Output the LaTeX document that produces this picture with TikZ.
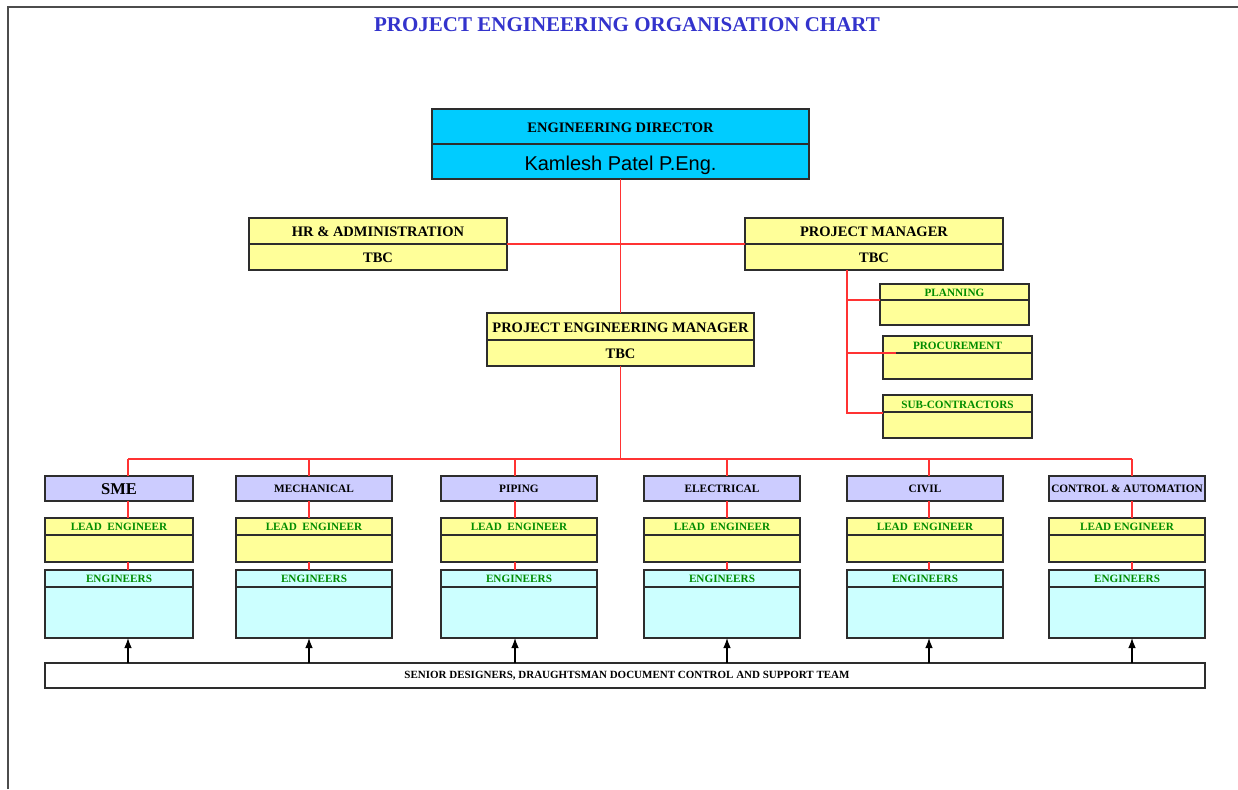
\documentclass[tikz,border=0pt]{standalone}
\usepackage{fontspec}
\setmainfont{Liberation Serif}
\newfontfamily\arialfont{Liberation Sans}
\usetikzlibrary{arrows.meta}
\definecolor{titleblue}{RGB}{51,51,204}
\definecolor{dircyan}{RGB}{0,204,255}
\definecolor{paleyellow}{RGB}{255,255,153}
\definecolor{lavender}{RGB}{204,204,255}
\definecolor{palecyan}{RGB}{204,255,255}
\definecolor{linered}{RGB}{255,51,51}
\definecolor{labgreen}{RGB}{0,140,0}
\definecolor{boxline}{RGB}{45,45,45}
\newcommand\obox[6]{\node[box,fill=#6,minimum width={(#4-#2)*1pt},minimum height={(#5-#3)*1pt}] (#1) at ({(#2+#4)/2},{(#3+#5)/2}) {};}
\newcommand\odiv[2]{\draw[divline] (#1.west |- 0,#2) -- (#1.east |- 0,#2);}
\begin{document}
\begin{tikzpicture}[x=1pt,y=-1pt,
  box/.style={draw=boxline,line width=1.3pt,inner sep=0pt,outer sep=0pt},
  divline/.style={draw=boxline,line width=1.3pt},
  redline/.style={draw=linered,line width=1.3pt},
  uparrow/.style={draw=black,line width=1.1pt,-{Latex[length=10pt,width=7.5pt]}},
  headlab/.style={inner sep=0pt,font=\bfseries\fontsize{14.5}{16}\selectfont},
  greenlab/.style={inner sep=0pt,text=labgreen,font=\bfseries\fontsize{11.2}{12}\selectfont},
  deptlab/.style={inner sep=0pt,font=\bfseries\fontsize{11.3}{12}\selectfont},
  frameline/.style={draw=black!70,line width=1.2pt}]
\useasboundingbox (0,0) rectangle (1238,789);
\draw[frameline] (8,789) -- (8,7) -- (1238,7);
\node[inner sep=0pt,text=titleblue,font=\bfseries\fontsize{21}{23}\selectfont] (title) at (627,25) {PROJECT ENGINEERING ORGANISATION CHART};

% director
\obox{dir}{432}{109}{809}{179}{dircyan}
\odiv{dir}{144}
\node[headlab] (dirT) at (620.5,127.5) {ENGINEERING DIRECTOR};
\node[inner sep=0pt,font=\arialfont\fontsize{20}{22}\selectfont,anchor=base] (dirN) at (620.5,170) {Kamlesh Patel P.Eng.};

% HR and PM
\obox{hr}{249}{218}{507}{270}{paleyellow}
\odiv{hr}{244}
\node[headlab] (hrT) at (378,231.5) {HR \& ADMINISTRATION};
\node[headlab] (hrN) at (378,257.5) {TBC};
\obox{pm}{745}{218}{1003}{270}{paleyellow}
\odiv{pm}{244}
\node[headlab] (pmT) at (874,231.5) {PROJECT MANAGER};
\node[headlab] (pmN) at (874,257.5) {TBC};

% PEM
\obox{pem}{487}{313}{754}{366}{paleyellow}
\odiv{pem}{340}
\node[headlab] (pemT) at (620.5,327.5) {PROJECT ENGINEERING MANAGER};
\node[headlab] (pemN) at (620.5,353.5) {TBC};

% PM sub-boxes
\obox{plan}{880}{284}{1029}{325}{paleyellow}
\odiv{plan}{300}
\node[greenlab] (planT) at (954.5,292.5) {PLANNING};
\obox{proc}{883}{336}{1032}{379}{paleyellow}
\odiv{proc}{353}
\node[greenlab] (procT) at (957.5,345.5) {PROCUREMENT};
\obox{subc}{883}{395}{1032}{438}{paleyellow}
\odiv{subc}{412}
\node[greenlab] (subcT) at (957.5,404.5) {SUB-CONTRACTORS};

% connectors top
\draw[redline] (dir.south) -- (pem.north);
\draw[redline] (hr.east |- 0,244) -- (pm.west |- 0,244);
\coordinate (pmtap) at (847,270);
\coordinate (pmend) at (847,413);
\draw[redline] (pmtap) -- (pmend) -- (subc.west |- pmend);
\draw[redline] (pmtap |- 0,300) -- (plan.west |- 0,300);
\draw[redline] (pmtap |- 0,353) -- (896,353);

% bus
\coordinate (bus) at (620.5,459);
\coordinate (busL) at (128,459);
\coordinate (busR) at (1132,459);
\draw[redline] (pem.south) -- (bus);
\draw[redline] (busL) -- (busR);

% support team
\obox{sup}{45}{663}{1205}{688}{white}
\node[inner sep=0pt,font=\bfseries\fontsize{11}{12}\selectfont] (supT) at (627,676) {SENIOR DESIGNERS, DRAUGHTSMAN DOCUMENT CONTROL AND SUPPORT TEAM};

% departments
\foreach \i/\xa/\xb/\xc/\lab/\lead in {
  1/45/193/128/{\fontsize{16.5}{18}\selectfont SME}/{LEAD\ \ ENGINEER},
  2/236/392/309/{MECHANICAL}/{LEAD\ \ ENGINEER},
  3/441/597/515/{PIPING}/{LEAD\ \ ENGINEER},
  4/644/800/727/{ELECTRICAL}/{LEAD\ \ ENGINEER},
  5/847/1003/929/{CIVIL}/{LEAD\ \ ENGINEER},
  6/1049/1205/1132/{CONTROL \& AUTOMATION}/{LEAD ENGINEER}}{
  \obox{dep\i}{\xa}{476}{\xb}{501}{lavender}
  \node[deptlab] (depT\i) at ([yshift=-0.5pt]dep\i.center) {\lab};
  \obox{lead\i}{\xa}{518}{\xb}{562}{paleyellow}
  \odiv{lead\i}{535}
  \node[greenlab] (leadT\i) at ({(\xa+\xb)/2},527) {\lead};
  \obox{eng\i}{\xa}{570}{\xb}{638}{palecyan}
  \odiv{eng\i}{587}
  \node[greenlab] (engT\i) at ({(\xa+\xb)/2},579) {ENGINEERS};
  \coordinate (col\i) at (\xc,459);
  \draw[redline] (col\i) -- (col\i |- dep\i.north);
  \draw[redline] (col\i |- dep\i.south) -- (col\i |- lead\i.north);
  \draw[redline] (col\i |- lead\i.south) -- (col\i |- eng\i.north);
  \draw[uparrow] (col\i |- sup.north) -- (col\i |- eng\i.south);
}
\end{tikzpicture}
\end{document}
